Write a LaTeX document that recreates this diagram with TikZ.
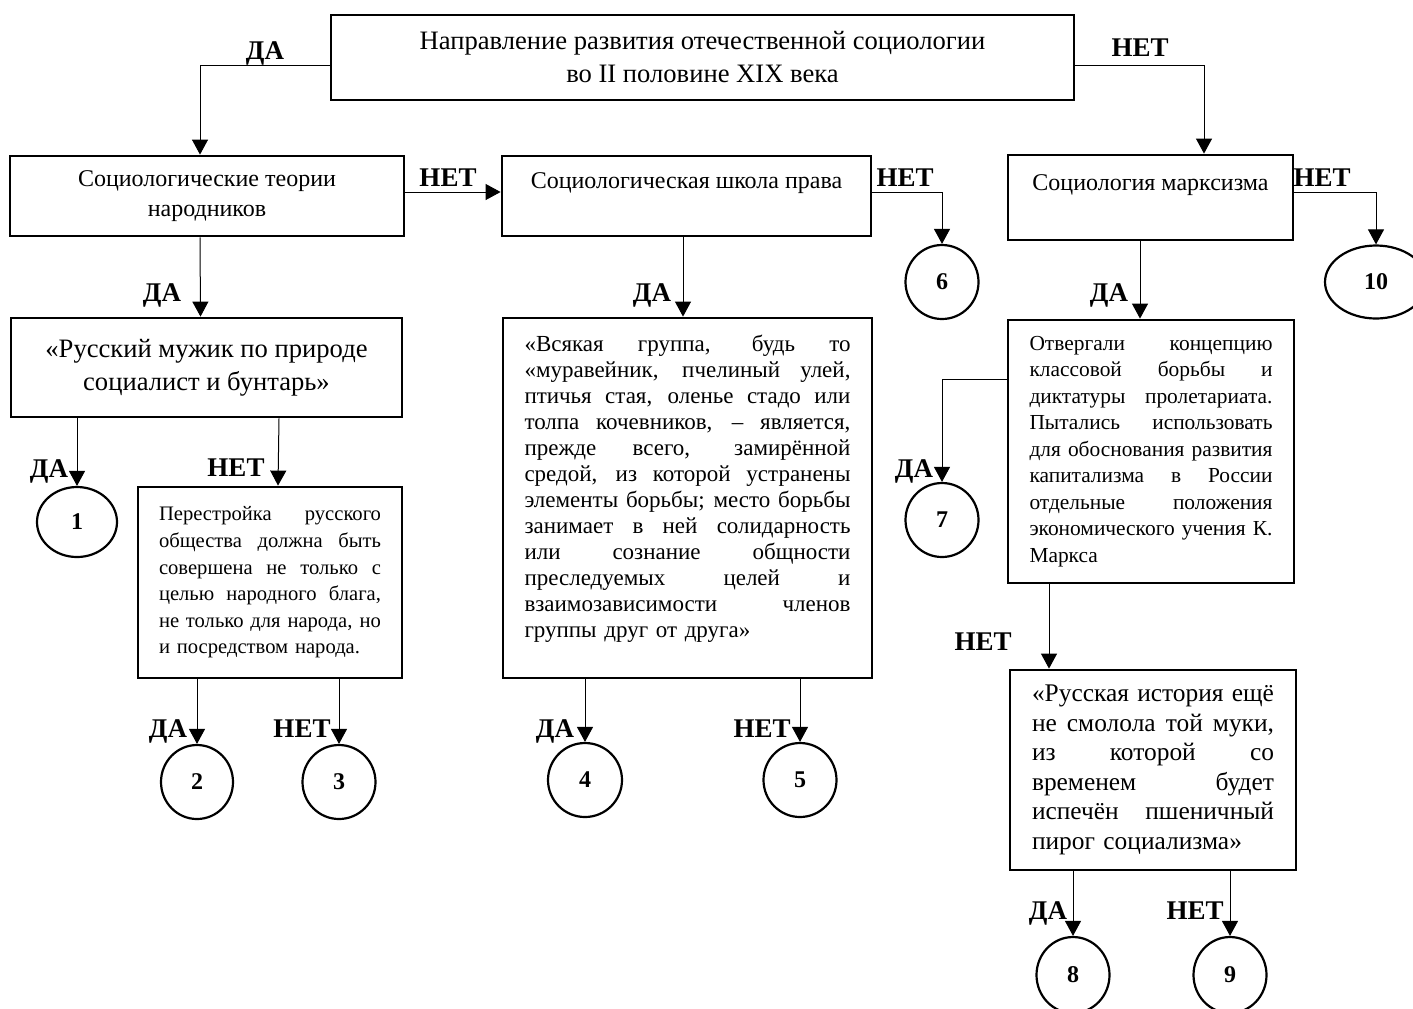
\documentclass[tikz,border=0pt]{standalone}
\usepackage{fontspec}
\setmainfont{Liberation Serif}
\usetikzlibrary{arrows.meta,shapes.geometric}

\newcommand{\jline}[1]{\makebox[\hsize][s]{\spaceskip=0pt\xspaceskip=0pt\relax #1}}

\begin{document}
\begin{tikzpicture}[x=0.5pt,y=-0.5pt,
  box/.style={draw,line width=1.4pt,align=center,inner sep=0pt},
  txtbox/.style={draw,line width=1.4pt,align=left,inner ysep=0pt},
  circ/.style={draw,ellipse,line width=1.1pt,inner sep=0pt,font=\fontsize{12}{14}\selectfont\bfseries},
  lbl/.style={font=\fontsize{13.5}{15}\selectfont\bfseries,inner sep=0pt,anchor=base},
  arr/.style={-{Triangle[length=7.5pt,width=8pt]},line width=0.5pt}]
  \useasboundingbox (0,0) rectangle (1413,1008);

  % boxes
  \node[box,minimum width=371.5pt,minimum height=42.5pt,font=\fontsize{13.3}{16.5}\selectfont] (top) at (702.5,57.5)
    {Направление развития отечественной социологии\\во II половине XIX века};
  \node[box,minimum width=197pt,minimum height=40pt,font=\fontsize{12}{15}\selectfont] (narod) at (207,196)
    {Социологические теории\\народников};
  \node[box,minimum width=184.5pt,minimum height=40pt,font=\fontsize{12}{15}\selectfont] (pravo) at (686.5,196)
    {Социологическая школа права\\~};
  \node[box,minimum width=142.5pt,minimum height=42.5pt,font=\fontsize{12}{15}\selectfont] (marx) at (1150.5,197.5)
    {Социология марксизма\\~};
  \node[box,minimum width=195.5pt,minimum height=49.5pt,font=\fontsize{13.3}{16.5}\selectfont] (rus) at (206.5,367.5)
    {«Русский мужик по природе\\социалист и бунтарь»};
  \node[txtbox,text width=163pt,inner xsep=10.75pt,minimum height=180pt,font=\fontsize{11.5}{13}\selectfont] (vsyak) at (687.5,498)
    {\jline{«Всякая группа, будь то}\\
     \jline{«муравейник, пчелиный улей,}\\
     \jline{птичья стая, оленье стадо или}\\
     \jline{толпа кочевников, – является,}\\
     \jline{прежде всего, замирённой}\\
     \jline{средой, из которой устранены}\\
     \jline{элементы борьбы; место борьбы}\\
     \jline{занимает в ней солидарность}\\
     \jline{или сознание общности}\\
     \jline{преследуемых целей и}\\
     \jline{взаимозависимости членов}\\
     группы друг от друга»\par\nointerlineskip\vbox to 9pt{}};
  \node[txtbox,text width=111pt,inner xsep=10.5pt,minimum height=95.5pt,font=\fontsize{10.3}{13.3}\selectfont] (perestr) at (270,582.5)
    {\jline{Перестройка русского}\\
     \jline{общества должна быть}\\
     \jline{совершена не только с}\\
     \jline{целью народного блага,}\\
     \jline{не только для народа, но}\\
     и посредством народа.};
  \node[txtbox,text width=121.5pt,inner xsep=10.75pt,minimum height=131.5pt,font=\fontsize{10.7}{13.25}\selectfont] (otv) at (1151,451.5)
    {\jline{Отвергали концепцию}\\
     \jline{классовой борьбы и}\\
     \jline{диктатуры пролетариата.}\\
     \jline{Пытались использовать}\\
     \jline{для обоснования развития}\\
     \jline{капитализма в России}\\
     \jline{отдельные положения}\\
     \jline{экономического учения К.}\\
     Маркса};
  \node[txtbox,text width=121pt,inner xsep=11pt,minimum height=100pt,font=\fontsize{12.7}{14.75}\selectfont] (rist) at (1153,770)
    {\jline{«Русская история ещё}\\
     \jline{не смолола той муки,}\\
     \jline{из которой со}\\
     \jline{временем будет}\\
     \jline{испечён пшеничный}\\
     пирог социализма»};

  % circles
  \node[circ,minimum width=40pt,minimum height=35pt] (c1) at (77,522) {1};
  \node[circ,minimum width=36pt,minimum height=37pt] (c2) at (197,782) {2};
  \node[circ,minimum width=36.5pt,minimum height=37pt] (c3) at (339,782) {3};
  \node[circ,minimum width=37pt,minimum height=37pt] (c4) at (585,780) {4};
  \node[circ,minimum width=36.5pt,minimum height=37pt] (c5) at (800,780) {5};
  \node[circ,minimum width=36.5pt,minimum height=37pt] (c6) at (942,282) {6};
  \node[circ,minimum width=36.5pt,minimum height=37pt] (c7) at (942,520) {7};
  \node[circ,minimum width=36.5pt,minimum height=38pt] (c8) at (1073,975) {8};
  \node[circ,minimum width=36.5pt,minimum height=38pt] (c9) at (1230,975) {9};
  \node[circ,minimum width=51pt,minimum height=36.5pt] (c10) at (1376,282) {10};

  % arrows
  \draw[arr] ([yshift=-3.75pt]top.west) -| ([xshift=-3.5pt]narod.north);
  \draw[arr] ([yshift=-3.75pt]top.east) -| ([xshift=26.75pt]marx.north);
  \draw[arr] ([yshift=2pt]narod.east) -- ([yshift=2pt]pravo.west);
  \draw[arr] ([yshift=2pt]pravo.east) -| (c6.north);
  \draw[arr] ([yshift=2.75pt]marx.east) -| (c10.north);
  \draw[arr] ([xshift=-3.5pt]narod.south) -- ([xshift=-3pt]rus.north);
  \draw[arr] ([xshift=-1.75pt]pravo.south) -- ([xshift=-2.25pt]vsyak.north);
  \draw[arr] ([xshift=-5.25pt]marx.south) -- ([xshift=-5.5pt]otv.north);
  \draw[arr] (rus.south -| c1.north) -- (c1.north);
  \draw[arr] ([xshift=4.5pt]rus.south -| perestr.north) -- ([xshift=4pt]perestr.north);
  \draw[arr] (perestr.south -| c2.north) -- (c2.north);
  \draw[arr] (perestr.south -| c3.north) -- (c3.north);
  \draw[arr] (vsyak.south -| c4.north) -- (c4.north);
  \draw[arr] (vsyak.south -| c5.north) -- (c5.north);
  \draw[arr] ([yshift=36.25pt]otv.west) -| (c7.north);
  \draw[arr] ([xshift=-51pt]otv.south) -- ([xshift=-52pt]rist.north);
  \draw[arr] (rist.south -| c8.north) -- (c8.north);
  \draw[arr] (rist.south -| c9.north) -- (c9.north);

  % labels
  \node[lbl] (l1) at (265,59) {ДА};
  \node[lbl] (l2) at (1140,56) {НЕТ};
  \node[lbl] (l3) at (448,186) {НЕТ};
  \node[lbl] (l4) at (905,186) {НЕТ};
  \node[lbl] (l5) at (1322,186) {НЕТ};
  \node[lbl] (l6) at (162,301) {ДА};
  \node[lbl] (l7) at (652,301) {ДА};
  \node[lbl] (l8) at (1109,301) {ДА};
  \node[lbl] (l9) at (49,477) {ДА};
  \node[lbl] (l10) at (236,476) {НЕТ};
  \node[lbl] (l11) at (914,477) {ДА};
  \node[lbl] (l12) at (983,650) {НЕТ};
  \node[lbl] (l13) at (168,737) {ДА};
  \node[lbl] (l14) at (302,737) {НЕТ};
  \node[lbl] (l15) at (555,737) {ДА};
  \node[lbl] (l16) at (762,737) {НЕТ};
  \node[lbl] (l17) at (1048,919) {ДА};
  \node[lbl] (l18) at (1195,919) {НЕТ};

\end{tikzpicture}
\end{document}
